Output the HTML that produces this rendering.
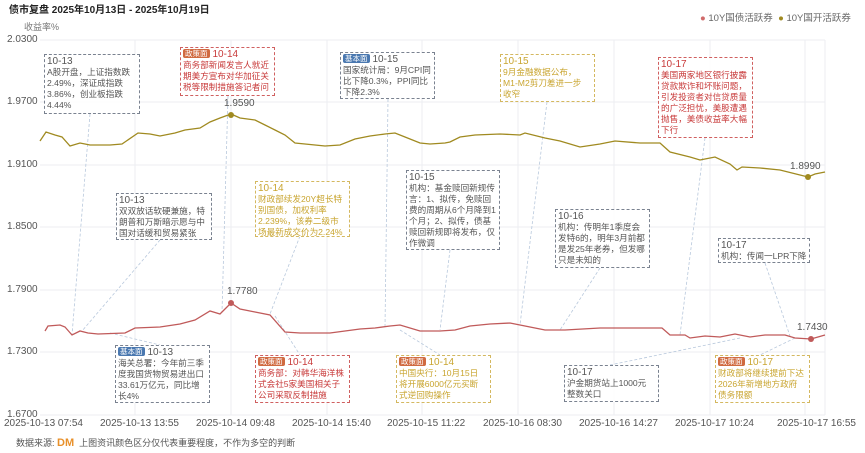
<!DOCTYPE html>
<html><head><meta charset="utf-8"><style>
body{margin:0;width:865px;height:453px;background:#fff;overflow:hidden;position:relative;font-family:"Liberation Sans","Noto Sans CJK SC",sans-serif;}
.b{position:absolute;border:1px dashed #888;background:rgba(255,255,255,0.9);font-size:8.6px;line-height:11px;padding:1px 2px;box-sizing:border-box;color:#555;white-space:nowrap;overflow:hidden}
.b .h{font-size:10px}
.r{border-color:#d06060;color:#c83a3a}
.g{border-color:#d4b860;color:#c9a530}
.gr{border-color:#7a8290;color:#555}
.tag{display:inline-block;font-size:7.5px;line-height:9px;padding:0 2px;border-radius:2px;color:#fff;margin-right:3px;vertical-align:1px}
.tb{background:#4a78b0}.tr{background:#d06a40}
.ax{position:absolute;font-size:10px;color:#555;white-space:nowrap}
</style></head><body>
<div style="position:absolute;left:9px;top:1px;font-size:10px;font-weight:bold;color:#222">债市复盘 2025年10月13日 - 2025年10月19日</div>
<div style="position:absolute;left:700px;top:10px;font-size:9.5px;color:#666;white-space:nowrap"><span style="color:#d06a6a">●</span> 10Y国债活跃券 &nbsp;<span style="color:#a08a20">●</span> 10Y国开活跃券</div>
<div class="ax" style="left:24px;top:20px;font-size:9px;color:#777">收益率%</div>
<div class="ax" style="left:7px;top:34px">2.0300</div>
<div class="ax" style="left:7px;top:96px">1.9700</div>
<div class="ax" style="left:7px;top:159px">1.9100</div>
<div class="ax" style="left:7px;top:221px">1.8500</div>
<div class="ax" style="left:7px;top:284px">1.7900</div>
<div class="ax" style="left:7px;top:346px">1.7300</div>
<div class="ax" style="left:7px;top:409px">1.6700</div>
<div class="ax" style="left:4px;top:418px">2025-10-13 07:54</div>
<div class="ax" style="left:100px;top:418px">2025-10-13 13:55</div>
<div class="ax" style="left:196px;top:418px">2025-10-14 09:48</div>
<div class="ax" style="left:292px;top:418px">2025-10-14 15:40</div>
<div class="ax" style="left:387px;top:418px">2025-10-15 11:22</div>
<div class="ax" style="left:483px;top:418px">2025-10-16 08:30</div>
<div class="ax" style="left:579px;top:418px">2025-10-16 14:27</div>
<div class="ax" style="left:675px;top:418px">2025-10-17 10:24</div>
<div class="ax" style="left:777px;top:418px">2025-10-17 16:55</div>
<div style="position:absolute;left:16px;top:436px;font-size:9px;color:#555;white-space:nowrap">数据来源: <b style="color:#e8902a;font-size:11px">DM</b> &nbsp;上图资讯颜色区分仅代表重要程度，不作为多空的判断</div>
<svg width="865" height="453" style="position:absolute;left:0;top:0">
<g stroke="#eceef2" stroke-width="1">
<line x1="40" y1="40" x2="825" y2="40"/><line x1="40" y1="102" x2="825" y2="102"/><line x1="40" y1="165" x2="825" y2="165"/><line x1="40" y1="227" x2="825" y2="227"/><line x1="40" y1="290" x2="825" y2="290"/><line x1="40" y1="352" x2="825" y2="352"/><line x1="40" y1="415" x2="825" y2="415"/>
<line x1="135" y1="40" x2="135" y2="415"/><line x1="231" y1="40" x2="231" y2="415"/><line x1="327" y1="40" x2="327" y2="415"/><line x1="422" y1="40" x2="422" y2="415"/><line x1="518" y1="40" x2="518" y2="415"/><line x1="614" y1="40" x2="614" y2="415"/><line x1="710" y1="40" x2="710" y2="415"/><line x1="805" y1="40" x2="805" y2="415"/><line x1="825" y1="40" x2="825" y2="415"/>
</g>
<g stroke="#b8c8dc" stroke-width="0.8" stroke-dasharray="3,2" fill="none">
<line x1="90" y1="114" x2="72" y2="335"/><line x1="160" y1="240" x2="82" y2="331"/><line x1="228" y1="96" x2="222" y2="312"/><line x1="388" y1="99" x2="385" y2="327"/><line x1="547" y1="102" x2="520" y2="325"/><line x1="705" y1="138" x2="680" y2="335"/><line x1="300" y1="236" x2="270" y2="314"/><line x1="450" y1="250" x2="440" y2="330"/><line x1="600" y1="268" x2="560" y2="330"/><line x1="765" y1="263" x2="790" y2="336"/><line x1="110" y1="333" x2="160" y2="345"/><line x1="275" y1="316" x2="300" y2="355"/><line x1="400" y1="330" x2="440" y2="355"/><line x1="740" y1="338" x2="610" y2="365"/><line x1="795" y1="338" x2="760" y2="355"/>
</g>
<polyline fill="none" stroke="#a08a20" stroke-width="1.3" points="40,141 46,132 55,135 62,137 70,146 80,143 90,145 110,145 122,144 138,133 150,134 160,136 175,133 185,130 200,128 210,122 220,118 231,114 240,118 255,120 265,125 275,130 285,135 295,143 305,144 325,146 340,145 355,139 370,136 385,134 395,133 405,137 420,143 430,144 445,143 450,142 460,137 475,135 500,134 520,135 525,133 545,138 560,141 580,147 600,144 615,141 640,143 660,143 670,152 690,157 700,160 705,159 715,157 730,164 737,170 742,167 760,168 780,170 800,175 808,177 815,174 825,172"/>
<polyline fill="none" stroke="#c05a5a" stroke-width="1.3" points="45,331 48,326 60,325 65,327 72,335 80,331 88,333 98,334 125,333 135,328 160,327 180,324 195,320 210,311 220,314 231,303 240,309 255,312 270,315 285,332 300,333 315,333 330,333 345,331 360,329 375,328 390,326 400,325 420,331 440,331 455,330 470,326 490,324 510,323 525,326 545,330 565,330 600,328 640,328 662,328 670,335 685,335 690,338 705,336 720,337 735,334 750,337 765,335 785,335 795,338 811,339 825,335"/>
<circle cx="231" cy="115" r="3" fill="#a08a20"/><circle cx="808" cy="177" r="3" fill="#a08a20"/>
<circle cx="231" cy="303" r="3" fill="#c05a5a"/><circle cx="811" cy="339" r="3" fill="#c05a5a"/>
<g font-size="10" fill="#555" font-family="Liberation Sans,sans-serif">
<text x="224" y="106">1.9590</text><text x="790" y="169">1.8990</text><text x="227" y="294">1.7780</text><text x="797" y="330">1.7430</text>
</g>
</svg>
<div class="b gr" style="left:44px;top:54px;width:96px;height:60px"><span class="h">10-13</span><br>A股开盘，上证指数跌<br>2.49%，深证成指跌<br>3.86%，创业板指跌<br>4.44%</div>
<div class="b r" style="left:180px;top:47px;width:95px;height:49px"><span class="tag tr">政策面</span><span class="h">10-14</span><br>商务部新闻发言人就近<br>期美方宣布对华加征关<br>税等限制措施答记者问</div>
<div class="b gr" style="left:340px;top:52px;width:95px;height:47px"><span class="tag tb">基本面</span><span class="h">10-15</span><br>国家统计局：9月CPI同<br>比下降0.3%，PPI同比<br>下降2.3%</div>
<div class="b g" style="left:500px;top:54px;width:95px;height:48px"><span class="h">10-15</span><br>9月金融数据公布，<br>M1-M2剪刀差进一步<br>收窄</div>
<div class="b r" style="left:658px;top:57px;width:95px;height:81px"><span class="h">10-17</span><br>美国两家地区银行披露<br>贷款欺诈和坏账问题，<br>引发投资者对信贷质量<br>的广泛担忧，美股遭遇<br>抛售，美债收益率大幅<br>下行</div>
<div class="b gr" style="left:116px;top:193px;width:96px;height:47px"><span class="h">10-13</span><br>双双放话软硬兼施，特<br>朗普和万斯暗示愿与中<br>国对话缓和贸易紧张</div>
<div class="b g" style="left:255px;top:181px;width:95px;height:56px"><span class="h">10-14</span><br>财政部续发20Y超长特<br>别国债，加权利率<br>2.239%，该券二级市<br>场最新成交价为2.24%</div>
<div class="b gr" style="left:406px;top:170px;width:94px;height:80px"><span class="h">10-15</span><br>机构：基金赎回新规传<br>言：1、拟传，免赎回<br>费的周期从6个月降到1<br>个月；2、拟传，债基<br>赎回新规即将发布，仅<br>作微调</div>
<div class="b gr" style="left:555px;top:209px;width:95px;height:59px"><span class="h">10-16</span><br>机构：传明年1季度会<br>发特6的，明年3月前都<br>是发25年老券，但发哪<br>只是未知的</div>
<div class="b gr" style="left:718px;top:238px;width:92px;height:25px"><span class="h">10-17</span><br>机构：传闻一LPR下降</div>
<div class="b gr" style="left:115px;top:345px;width:95px;height:58px"><span class="tag tb">基本面</span><span class="h">10-13</span><br>海关总署：今年前三季<br>度我国货物贸易进出口<br>33.61万亿元，同比增<br>长4%</div>
<div class="b r" style="left:255px;top:355px;width:95px;height:48px"><span class="tag tr">政策面</span><span class="h">10-14</span><br>商务部：对韩华海洋株<br>式会社5家美国相关子<br>公司采取反制措施</div>
<div class="b g" style="left:396px;top:355px;width:95px;height:48px"><span class="tag tr">政策面</span><span class="h">10-14</span><br>中国央行：10月15日<br>将开展6000亿元买断<br>式逆回购操作</div>
<div class="b gr" style="left:564px;top:365px;width:95px;height:37px"><span class="h">10-17</span><br>沪金期货站上1000元<br>整数关口</div>
<div class="b g" style="left:715px;top:355px;width:95px;height:48px"><span class="tag tr">政策面</span><span class="h">10-17</span><br>财政部将继续提前下达<br>2026年新增地方政府<br>债务限额</div>
</body></html>
